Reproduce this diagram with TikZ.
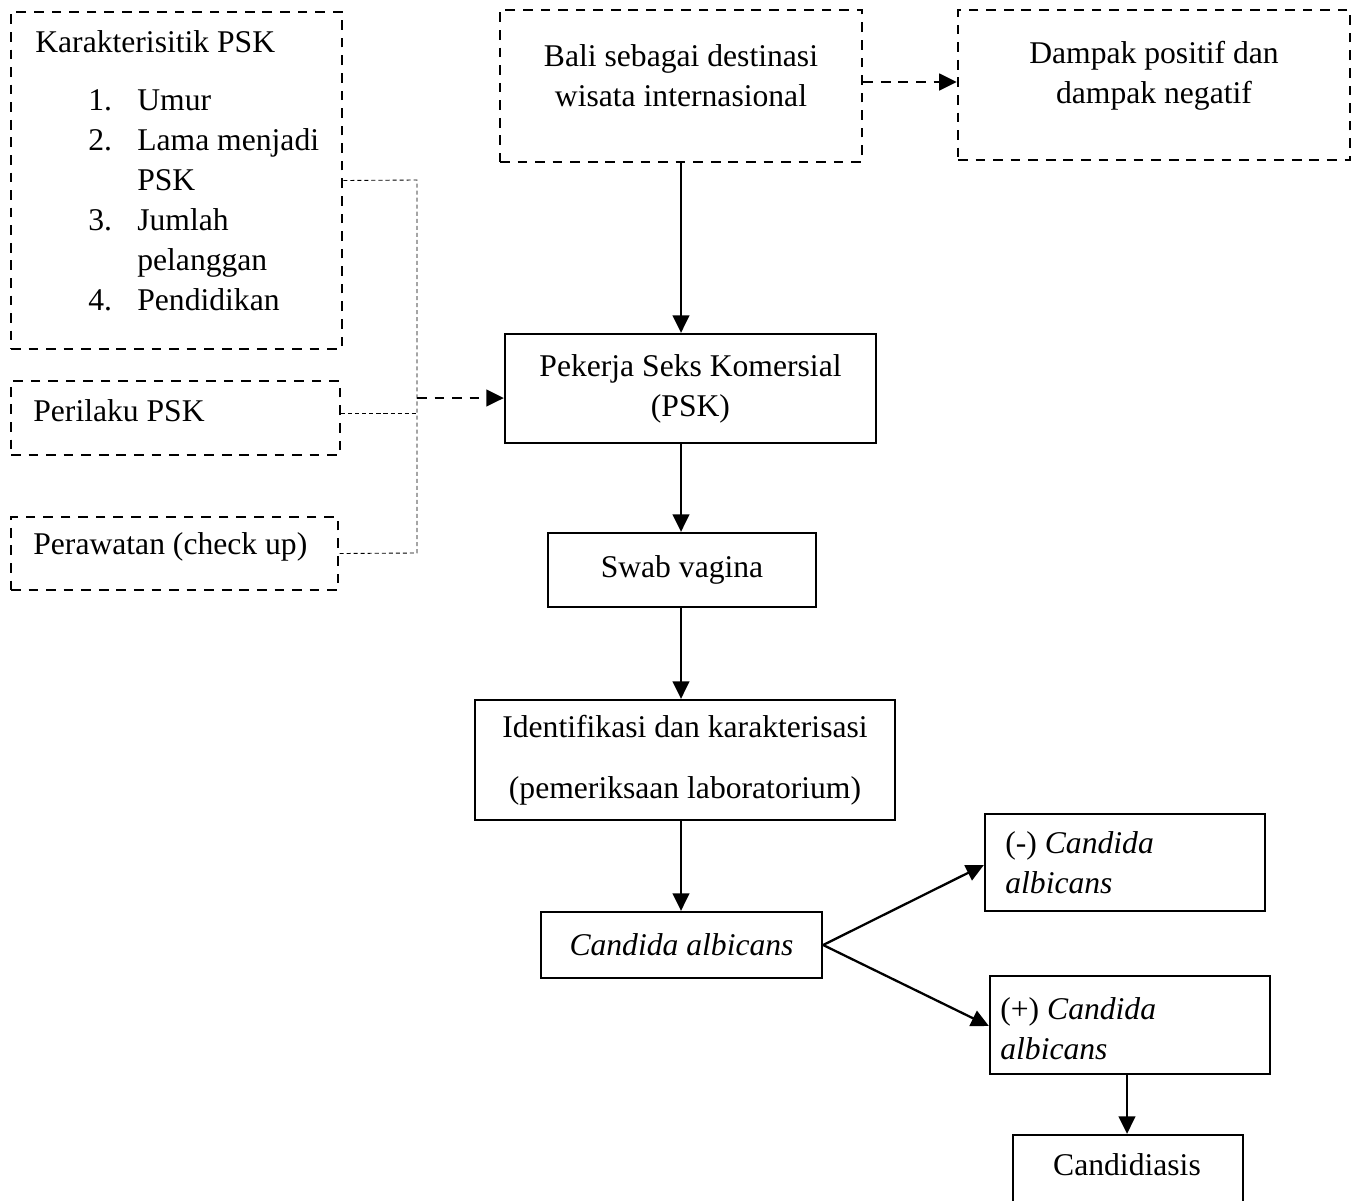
\documentclass[tikz,border=0pt]{standalone}
\usepackage{fontspec}
\setmainfont{Liberation Serif}
\usetikzlibrary{arrows.meta,positioning}

\begin{document}
\begin{tikzpicture}[x=0.02cm,y=-0.02cm,>={Triangle[length=10pt,width=9.5pt]},
    font=\fontsize{18}{22.8}\selectfont,
    box size/.style 2 args={minimum width=#1*0.02cm,minimum height=#2*0.02cm},
    dash box/.style={draw,line width=1.5pt,dash pattern=on 5.5pt off 4.5pt,inner sep=0pt},
    plain box/.style={draw,line width=1.3pt,inner sep=0pt},
    flow/.style={->,line width=1.3pt},
    dash flow/.style={->,line width=1.4pt,dash pattern=on 5.5pt off 4.5pt},
    link dot/.style={line width=0.5pt,dash pattern=on 2.3pt off 1.7pt}]

  \useasboundingbox (0,0) rectangle (1362,1200);

  % left dashed boxes
  \node[dash box,box size={331}{337}] (karak) at (176.5,180.5) {};
  \node[anchor=base west,inner sep=0pt] (karaktext) at (35,52) {\begin{tabular}[t]{@{}l@{}}
      Karakterisitik PSK\\[0.36cm]
      \hspace{1.06cm}\makebox[0.98cm][l]{1.}Umur\\
      \hspace{1.06cm}\makebox[0.98cm][l]{2.}Lama menjadi\\
      \hspace{2.04cm}PSK\\
      \hspace{1.06cm}\makebox[0.98cm][l]{3.}Jumlah\\
      \hspace{2.04cm}pelanggan\\
      \hspace{1.06cm}\makebox[0.98cm][l]{4.}Pendidikan
    \end{tabular}};
  \node[dash box,box size={329}{74}] (perilaku) at (175.5,418) {};
  \node[anchor=west,inner sep=0pt] (perilakutext) at (33,411) {Perilaku PSK};
  \node[dash box,box size={327}{73}] (rawat) at (174.5,553.5) {};
  \node[anchor=west,inner sep=0pt] (rawattext) at (33,547) {Perawatan (check up)};

  % top boxes
  \node[dash box,box size={362}{152}] (bali) at (681,86) {};
  \node[align=center,inner sep=0pt] (balitext) at (681,76) {Bali sebagai destinasi\\wisata internasional};
  \node[dash box,box size={392}{150}] (dampak) at (1154,85) {};
  \node[align=center,inner sep=0pt] (dampaktext) at (1154,76) {Dampak positif dan\\dampak negatif};

  % main flow
  \node[plain box,box size={371}{109},align=center] (psk) at (690.5,388.5) {Pekerja Seks Komersial\\(PSK)};
  \node[plain box,box size={268}{74}] (swab) at (682,570) {Swab vagina};
  \node[plain box,box size={420}{120},align=center,font=\fontsize{18}{35}\selectfont] (ident) at (685,760) {Identifikasi dan karakterisasi\\(pemeriksaan laboratorium)};
  \node[plain box,box size={281}{66}] (cand) at (681.5,945) {\textit{Candida albicans}};
  \node[plain box,box size={280}{97}] (neg) at (1125,862.5) {};
  \node[anchor=west,align=left,inner sep=0pt] (negtext) at (1005,863) {(-) \textit{Candida}\\\textit{albicans}};
  \node[plain box,box size={280}{98}] (pos) at (1130,1025) {};
  \node[anchor=west,align=left,inner sep=0pt] (postext) at (1000,1029) {(+) \textit{Candida}\\\textit{albicans}};
  \node[plain box,box size={230}{70}] (cdsis) at (1128,1170) {};
  \node[inner sep=0pt] (cdsistext) at (1127,1165) {Candidiasis};

  % dotted links
  \coordinate (jtop) at (417,180);
  \coordinate (jbot) at (417,553);
  \coordinate (junc) at (417,398);
  \draw[link dot] (karak.east) -- (jtop) -- (jbot) -- (rawat.east);
  \draw[link dot] (perilaku.east |- 0,413) -- (jtop |- 0,413);

  % arrows
  \draw[dash flow] (junc) -- (junc -| psk.west);
  \draw[dash flow] (bali.east |- 0,82) -- (dampak.west |- 0,82);
  \draw[flow] (bali.south) -- (bali.south |- psk.north);
  \draw[flow] (bali.south |- psk.south) -- (bali.south |- swab.north);
  \draw[flow] (bali.south |- swab.south) -- (bali.south |- ident.north);
  \draw[flow] (bali.south |- ident.south) -- (bali.south |- cand.north);
  \draw[flow] (cand.east) -- (neg.west |- 0,865);
  \draw[flow] (cand.east) -- (pos.west |- 0,1026);
  \draw[flow] (cdsistext |- pos.south) -- (cdsistext |- cdsis.north);

\end{tikzpicture}
\end{document}
